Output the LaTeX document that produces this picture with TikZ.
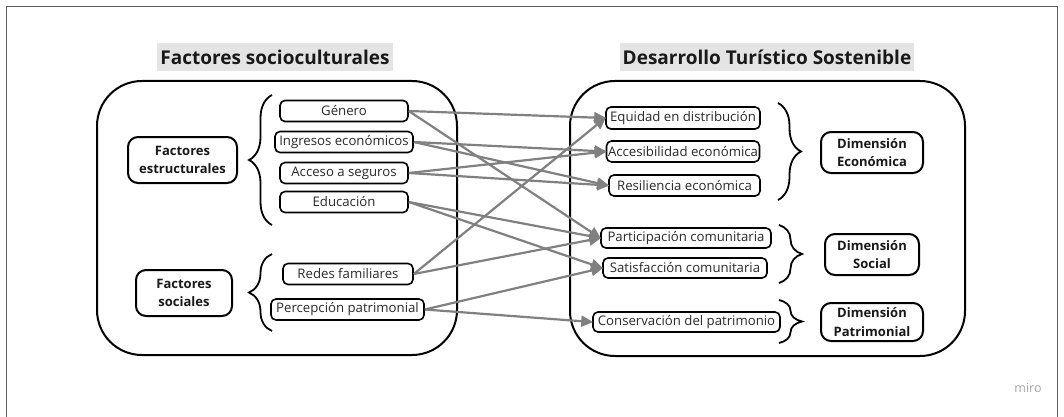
\documentclass[tikz,border=0pt]{standalone}
\usepackage{fontspec}
\setmainfont{Open Sans}
\usetikzlibrary{arrows.meta,decorations.pathreplacing}
\definecolor{arrowgray}{HTML}{808080}
\definecolor{titlebg}{HTML}{E4E4E4}
\definecolor{boxtext}{HTML}{2A2A2A}
\definecolor{framegray}{HTML}{606060}
\tikzset{
  item/.style={draw=black, line width=1.6pt, rounded corners=5pt, fill=white,
    minimum height=21pt, inner xsep=1.5pt, inner ysep=0pt, text=boxtext,
    font=\fontsize{13.2}{15}\selectfont},
  label/.style={draw=black, line width=2pt, rounded corners=10pt, fill=white,
    align=center, inner sep=2pt, text=black!90,
    font=\fontsize{13}{18.5}\selectfont\bfseries},
  title/.style={fill=titlebg, inner xsep=3pt, inner ysep=0pt, minimum height=28pt,
    text=black!90, font=\fontsize{19}{22}\selectfont\bfseries},
  bigbox/.style={draw=black, line width=2pt, rounded corners=45pt},
  conn/.style={draw=arrowgray, line width=2.2pt,
    -{Triangle[length=12pt,width=11pt]}, shorten >=-1pt},
  curly/.style={draw=black, line width=1.8pt,
    decorate, decoration={brace, amplitude=23pt, aspect=0.5}},
}
\begin{document}
\begin{tikzpicture}[x=1pt,y=-1pt]
\useasboundingbox (0,0) rectangle (1064,417);
\fill[white] (0,0) rectangle (1064,417);
% frame
\draw[framegray, line width=1pt] (6,417) -- (6,7) -- (1057,7) -- (1057,417);

% big boxes
\draw[bigbox] (97,81) rectangle (457,355);
\draw[bigbox] (570,81) rectangle (965,356);

% titles
\node[title] (t1) at (275,57) {Factores socioculturales};
\node[title] (t2) at (767,57) {Desarrollo Turístico Sostenible};

% left items
\node[item, minimum width=128pt] (gen) at (344,111) {Género};
\node[item, minimum width=138pt] (ing) at (344,142) {Ingresos económicos};
\node[item, minimum width=128pt] (acc) at (344,173) {Acceso a seguros};
\node[item, minimum width=128pt] (edu) at (344,202) {Educación};
\node[item, minimum width=130pt] (red) at (348,274) {Redes familiares};
\node[item, minimum width=153pt] (per) at (347.5,309.5) {Percepción patrimonial};

\node[label, minimum width=109pt, minimum height=46pt] (fest) at (182.5,160) {Factores\\estructurales};
\node[label, minimum width=96pt, minimum height=46pt] (fsoc) at (184,293) {Factores\\sociales};

% right items
\node[item, minimum width=154pt, minimum height=22pt] (equ) at (683,118) {Equidad en distribución};
\node[item, minimum width=152pt] (acb) at (683,151.5) {Accesibilidad económica};
\node[item, minimum width=151pt] (res) at (684.5,185.5) {Resiliencia económica};
\node[item, minimum width=170pt, minimum height=20pt] (par) at (686,238) {Participación comunitaria};
\node[item, minimum width=164pt, minimum height=20pt] (sat) at (685,268) {Satisfacción comunitaria};
\node[item, minimum width=187pt, minimum height=20pt] (con) at (686.5,322) {Conservación del patrimonio};

\node[label, minimum width=102pt, minimum height=41pt] (deco) at (872,152.5) {Dimensión\\Económica};
\node[label, minimum width=94pt, minimum height=41pt] (dsoc) at (872,254.5) {Dimensión\\Social};
\node[label, minimum width=102pt, minimum height=38pt] (dpat) at (872,322) {Dimensión\\Patrimonial};

% braces
\coordinate (b1s) at (272,225); \coordinate (b1e) at (272,95);
\coordinate (b2s) at (272,331); \coordinate (b2e) at (272,254);
\coordinate (b3s) at (778,103); \coordinate (b3e) at (778,200);
\coordinate (b4s) at (779,225); \coordinate (b4e) at (779,283);
\coordinate (b5s) at (779,300); \coordinate (b5e) at (779,343);
\draw[curly] (b1s) -- (b1e);
\draw[curly] (b2s) -- (b2e);
\draw[curly] (b3s) -- (b3e);
\draw[curly] (b4s) -- (b4e);
\draw[curly] (b5s) -- (b5e);

% connectors
\draw[conn] (gen.east) -- (equ.west);
\draw[conn] (gen.east) -- (par.west);
\draw[conn] (ing.east) -- (acb.west);
\draw[conn] (ing.east) -- (res.west);
\draw[conn] (acc.east) -- (acb.west);
\draw[conn] (acc.east) -- (res.west);
\draw[conn] (edu.east) -- (par.west);
\draw[conn] (edu.east) -- (sat.west);
\draw[conn] (red.east) -- (equ.west);
\draw[conn] (red.east) -- (par.west);
\draw[conn] (per.east) -- (sat.west);
\draw[conn] (per.east) -- (con.west);

% logo
\node[text=black!35, font=\fontsize{12.5}{14}\selectfont] (logo) at (1028,388) {miro};
\end{tikzpicture}
\end{document}
